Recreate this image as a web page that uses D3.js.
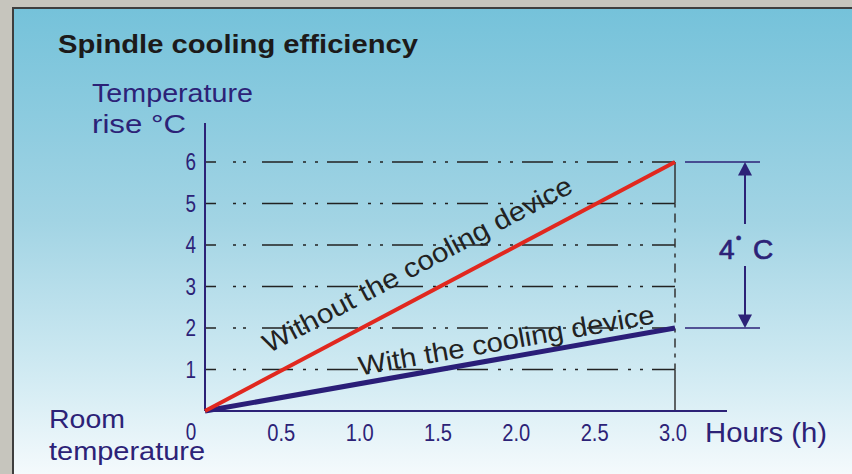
<!DOCTYPE html>
<html>
<head>
<meta charset="utf-8">
<script src="https://cdn.jsdelivr.net/npm/d3@7"></script>
<style>
  body { margin: 0; background: #c6c5bd; }
  svg { display: block; }
</style>
</head>
<body>
<div id="viz"></div>
<script>
// chart data
var hours = [0, 3.0];
var withoutCooling = [0, 6];
var withCooling = [0, 2];
var yTicks = [1, 2, 3, 4, 5, 6];
var xTicks = [0.5, 1.0, 1.5, 2.0, 2.5, 3.0];
var diffLabel = "4";

var W = 852, H = 474;
var indigo = "#2c2277";

var svg = d3.select("#viz").append("svg")
  .attr("width", W).attr("height", H);

// background gradient
var defs = svg.append("defs");
var grad = defs.append("linearGradient").attr("id", "bg")
  .attr("x1", 0).attr("y1", 0).attr("x2", 0).attr("y2", 1);
grad.append("stop").attr("offset", "0%").attr("stop-color", "#75c2da");
grad.append("stop").attr("offset", "45%").attr("stop-color", "#a2d4e4");
grad.append("stop").attr("offset", "78%").attr("stop-color", "#d2ebf3");
grad.append("stop").attr("offset", "100%").attr("stop-color", "#f7fbfd");

svg.append("rect").attr("width", W).attr("height", H).attr("fill", "#c6c5bd");
svg.append("rect")
  .attr("x", 13).attr("y", 8).attr("width", W).attr("height", H)
  .attr("fill", "url(#bg)")
  .attr("stroke", "#3e3e3e").attr("stroke-width", 2);

// scales
var x = d3.scaleLinear().domain([0, 3]).range([205, 675]);
var y = d3.scaleLinear().domain([0, 6]).range([411, 162]);

var sans = "'Liberation Sans', Arial, sans-serif";

// title
svg.append("text")
  .attr("x", 58).attr("y", 53)
  .attr("font-family", sans).attr("font-weight", "bold")
  .attr("font-size", 25).attr("fill", "#1c1a1a")
  .attr("textLength", 360).attr("lengthAdjust", "spacingAndGlyphs")
  .text("Spindle cooling efficiency");

// axis titles
function label(tx, ty, str, len, size) {
  svg.append("text")
    .attr("x", tx).attr("y", ty)
    .attr("font-family", sans).attr("font-size", size || 26)
    .attr("fill", indigo)
    .attr("textLength", len).attr("lengthAdjust", "spacingAndGlyphs")
    .text(str);
}
label(92, 102, "Temperature", 161);
label(92, 133, "rise  °C", 94);
label(49, 428, "Room", 76);
label(49, 460, "temperature", 156);
label(705, 442, "Hours (h)", 122, 27);

// grid lines (dash-dot)
var gridDash = "11,17,3,7,3,16,31,10,3,9,3,9,31,10,3,9,3,9,31,10,3,9,3,9,31,10,3,9,3,9,31,10,3,9,3,9,31,10,3,9,3,9,31,10,3,9,3,9";
svg.append("g").selectAll("line")
  .data(yTicks).enter().append("line")
  .attr("x1", x(0)).attr("x2", x(3))
  .attr("y1", function (d) { return y(d); })
  .attr("y2", function (d) { return y(d); })
  .attr("stroke", "#222").attr("stroke-width", 1.5)
  .attr("stroke-dasharray", gridDash);

// right vertical guide at 3.0 h
svg.append("line")
  .attr("x1", x(3)).attr("x2", x(3))
  .attr("y1", y(5)).attr("y2", y(1))
  .attr("stroke", "#333").attr("stroke-width", 1.5)
  .attr("stroke-dasharray", "4,6,9,6");
svg.append("line")
  .attr("x1", x(3)).attr("x2", x(3))
  .attr("y1", y(6)).attr("y2", y(5))
  .attr("stroke", "#333").attr("stroke-width", 1.5);
svg.append("line")
  .attr("x1", x(3)).attr("x2", x(3))
  .attr("y1", y(1)).attr("y2", y(0))
  .attr("stroke", "#333").attr("stroke-width", 1.5);

// tick labels, condensed look
function tickText(sel) {
  sel.attr("font-family", sans).attr("font-size", 23)
    .attr("fill", indigo)
    .attr("lengthAdjust", "spacingAndGlyphs")
    .attr("textLength", function (d) { return String(d).length > 1 ? 28 : 10.5; });
}

// y tick labels
svg.append("g").selectAll("text")
  .data(yTicks).enter().append("text")
  .attr("x", 196)
  .attr("y", function (d) { return y(d) + 8; })
  .attr("text-anchor", "end")
  .call(tickText)
  .text(function (d) { return d; });

// x tick labels
svg.append("g").selectAll("text")
  .data(xTicks.map(function (d) { return d.toFixed(1); })).enter().append("text")
  .attr("x", function (d) { return x(+d) - 2; })
  .attr("y", 441)
  .attr("text-anchor", "middle")
  .call(tickText)
  .text(function (d) { return d; });
svg.append("g").selectAll("text")
  .data(["0"]).enter().append("text")
  .attr("x", x(0) - 14).attr("y", 440)
  .attr("text-anchor", "middle")
  .call(tickText)
  .text(function (d) { return d; });

// axes
svg.append("line")
  .attr("x1", x(0)).attr("x2", x(0))
  .attr("y1", 123).attr("y2", y(0))
  .attr("stroke", indigo).attr("stroke-width", 2);
svg.append("line")
  .attr("x1", x(0)).attr("x2", 727)
  .attr("y1", y(0)).attr("y2", y(0))
  .attr("stroke", indigo).attr("stroke-width", 2);

// series lines
var line = d3.line()
  .x(function (d) { return x(d[0]); })
  .y(function (d) { return y(d[1]); });

svg.append("path")
  .datum(d3.zip(hours, withCooling))
  .attr("d", line)
  .attr("fill", "none").attr("stroke", "#2a1e78").attr("stroke-width", 5);

svg.append("path")
  .datum(d3.zip(hours, withoutCooling))
  .attr("d", line)
  .attr("fill", "none").attr("stroke", "#e1281f").attr("stroke-width", 4);

// labels along the lines
function lineLabel(series, at, offset, str, len) {
  var x0 = x(hours[0]), y0 = y(series[0]);
  var x1 = x(hours[1]), y1 = y(series[1]);
  var ang = Math.atan2(y1 - y0, x1 - x0) * 180 / Math.PI;
  var yy = series[0] + (series[1] - series[0]) * (at - hours[0]) / (hours[1] - hours[0]);
  svg.append("text")
    .attr("transform", "translate(" + x(at) + "," + y(yy) + ") rotate(" + ang + ") translate(0," + (-offset) + ")")
    .attr("font-family", sans).attr("font-size", 27)
    .attr("fill", "#222")
    .attr("textLength", len).attr("lengthAdjust", "spacingAndGlyphs")
    .text(str);
}
lineLabel(withoutCooling, 0.47, 21, "Without the cooling device", 346);
lineLabel(withCooling, 1.0, 8, "With the cooling device", 300);

// difference annotation
var ax = 745;
[6, 2].forEach(function (v) {
  svg.append("line")
    .attr("x1", 685).attr("x2", 760)
    .attr("y1", y(v)).attr("y2", y(v))
    .attr("stroke", indigo).attr("stroke-width", 1.5);
});
svg.append("line")
  .attr("x1", ax).attr("x2", ax).attr("y1", y(6) + 12).attr("y2", 224)
  .attr("stroke", indigo).attr("stroke-width", 2);
svg.append("line")
  .attr("x1", ax).attr("x2", ax).attr("y1", 266).attr("y2", y(2) - 12)
  .attr("stroke", indigo).attr("stroke-width", 2);
svg.append("path")
  .attr("d", "M" + ax + "," + y(6) + "l7,13.5h-14z")
  .attr("fill", indigo);
svg.append("path")
  .attr("d", "M" + ax + "," + y(2) + "l7,-13.5h-14z")
  .attr("fill", indigo);

var dt = svg.append("text")
  .attr("y", 259)
  .attr("font-family", sans).attr("font-size", 28)
  .attr("fill", indigo).attr("stroke", indigo).attr("stroke-width", 0.7);
dt.append("tspan").attr("x", 719).text(diffLabel);
dt.append("tspan").attr("x", 736).attr("dy", -16).attr("font-size", 15).text("•");
dt.append("tspan").attr("x", 753).attr("dy", 16).text("C");
</script>
</body>
</html>
